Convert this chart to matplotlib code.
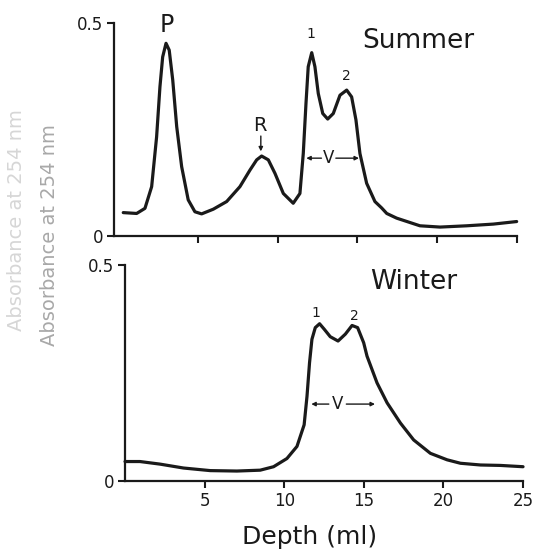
#!/usr/bin/env python3

import matplotlib
matplotlib.use("Agg")
import matplotlib.pyplot as plt

# Summer profile (depth in ml, absorbance)
summer_x = [0.33, 1.17, 1.69, 2.11, 2.42, 2.63, 2.80, 3.01, 3.21, 3.43, 3.68,
            3.99, 4.40, 4.82, 5.24, 5.97, 6.81, 7.64, 8.27, 8.69, 9.00, 9.42,
            9.84, 10.36, 10.98, 11.40, 11.61, 11.78, 11.92, 12.14, 12.34,
            12.55, 12.83, 13.14, 13.49, 13.91, 14.33, 14.64, 14.91, 15.16,
            15.58, 16.10, 16.52, 16.84, 17.46, 18.92, 20.18, 21.85, 23.52,
            24.98]
summer_y = [0.055, 0.053, 0.065, 0.116, 0.233, 0.351, 0.421, 0.453, 0.437,
            0.367, 0.257, 0.163, 0.085, 0.057, 0.052, 0.063, 0.081, 0.116,
            0.155, 0.179, 0.188, 0.179, 0.147, 0.100, 0.077, 0.100, 0.194,
            0.312, 0.398, 0.431, 0.398, 0.335, 0.288, 0.275, 0.288, 0.331,
            0.343, 0.327, 0.273, 0.194, 0.124, 0.081, 0.066, 0.053, 0.042,
            0.024, 0.021, 0.024, 0.028, 0.034]

# Winter profile
winter_x = [0.0, 0.94, 2.20, 3.67, 5.35, 7.03, 8.49, 9.33, 10.17, 10.80,
            11.25, 11.43, 11.59, 11.74, 11.95, 12.22, 12.52, 12.89, 13.38,
            13.84, 14.26, 14.61, 14.99, 15.20, 15.83, 16.46, 17.30, 18.13,
            19.18, 20.23, 21.07, 22.33, 23.58, 25.0]
winter_y = [0.045, 0.045, 0.039, 0.030, 0.024, 0.023, 0.025, 0.033, 0.052,
            0.080, 0.130, 0.196, 0.274, 0.328, 0.355, 0.364, 0.351, 0.334,
            0.324, 0.340, 0.360, 0.355, 0.320, 0.289, 0.227, 0.181, 0.134,
            0.095, 0.064, 0.049, 0.041, 0.037, 0.036, 0.033]

x_ticks = [5, 10, 15, 20, 25]
y_ticks = [0, 0.5]
y_tick_labels = ["0", "0.5"]

ink = "#1a1a1a"
arrow = dict(arrowstyle="-|>", color=ink, lw=1, mutation_scale=6,
             shrinkA=0, shrinkB=0)

fig = plt.figure(figsize=(5.41, 5.5), dpi=100)
ax_top = fig.add_axes([0.2107, 0.5709, 0.7449, 0.3867])
ax_bot = fig.add_axes([0.2311, 0.1255, 0.7357, 0.3927])


def style(ax, xmin, show_xlabels):
    ax.set_xlim(xmin, 25)
    ax.set_ylim(0, 0.5)
    for side in ["top", "right"]:
        ax.spines[side].set_visible(False)
    for side in ["left", "bottom"]:
        ax.spines[side].set_linewidth(1.6)
        ax.spines[side].set_color(ink)
    ax.set_xticks(x_ticks)
    ax.set_yticks(y_ticks)
    ax.set_yticklabels(y_tick_labels)
    ax.tick_params(axis="both", direction="out", length=5, width=1.5,
                   color=ink, labelcolor=ink, labelsize=12, pad=3)
    if not show_xlabels:
        ax.set_xticklabels([])


style(ax_top, -0.25, False)
style(ax_bot, 0, True)

ax_top.plot(summer_x, summer_y, color=ink, lw=2.3, solid_joinstyle="round",
            solid_capstyle="round", clip_on=False)
ax_bot.plot(winter_x, winter_y, color=ink, lw=2.3, solid_joinstyle="round",
            solid_capstyle="round", clip_on=False)

# Summer annotations
ax_top.text(3.07, 0.497, "P", fontsize=17, color=ink, ha="center", va="center")
ax_top.text(8.9, 0.259, "R", fontsize=14, color=ink, ha="center", va="center")
ax_top.annotate("", xy=(8.95, 0.199), xytext=(8.95, 0.235), arrowprops=arrow)
ax_top.text(12.1, 0.474, "1", fontsize=10, color=ink, ha="center", va="center")
ax_top.text(14.3, 0.377, "2", fontsize=10, color=ink, ha="center", va="center")
ax_top.text(15.3, 0.458, "Summer", fontsize=19, color=ink, ha="left",
            va="center")
ax_top.text(13.2, 0.183, "V", fontsize=12, color=ink, ha="center", va="center")
ax_top.annotate("", xy=(11.8, 0.183), xytext=(12.75, 0.183), arrowprops=arrow)
ax_top.annotate("", xy=(15.1, 0.183), xytext=(13.65, 0.183), arrowprops=arrow)

# Winter annotations
ax_bot.text(15.4, 0.461, "Winter", fontsize=19, color=ink, ha="left",
            va="center")
ax_bot.text(12.0, 0.39, "1", fontsize=10, color=ink, ha="center", va="center")
ax_bot.text(14.4, 0.382, "2", fontsize=10, color=ink, ha="center", va="center")
ax_bot.text(13.33, 0.178, "V", fontsize=12, color=ink, ha="center", va="center")
ax_bot.annotate("", xy=(11.7, 0.178), xytext=(12.8, 0.178), arrowprops=arrow)
ax_bot.annotate("", xy=(15.7, 0.178), xytext=(13.9, 0.178), arrowprops=arrow)

fig.text(310 / 541, 1 - 544 / 550, "Depth (ml)", fontsize=18, color=ink,
         ha="center", va="baseline")

# faint axis title (bleed-through print)
fig.text(50 / 541, 0.573, "Absorbance at 254 nm", rotation=90, fontsize=14,
         color="#a8a8a8", ha="center", va="center")
fig.text(17 / 541, 0.60, "Absorbance at 254 nm", rotation=90, fontsize=14,
         color="#d6d6d6", ha="center", va="center")

fig.savefig("out.png", dpi=100)
